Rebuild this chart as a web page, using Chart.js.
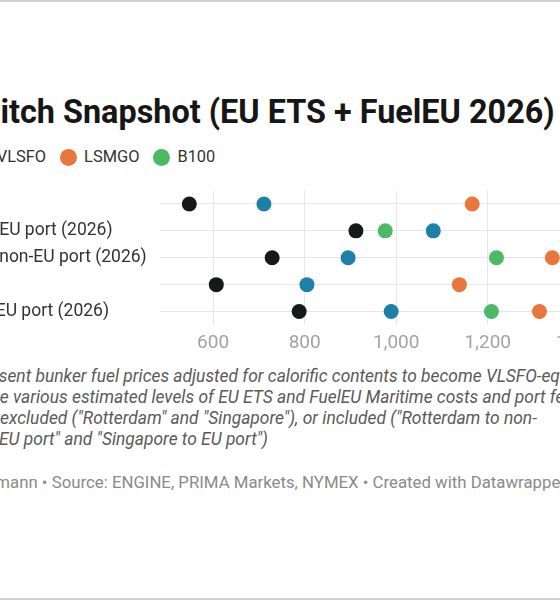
<!DOCTYPE html>
<html>
<head>
    <title>Fuel Switch Snapshot</title>
    <style>
        body {
            margin: 0;
            width: 560px;
            height: 600px;
            overflow: hidden;
            position: relative;
            background: #fff;
            font-family: Roboto, "Noto Sans", sans-serif;
        }
        .rule {
            position: absolute;
            left: 0;
            width: 560px;
            height: 2px;
            background: #cfcfcf;
        }
        .line {
            position: absolute;
            white-space: nowrap;
        }
        .title {
            top: 93px;
            font-size: 32.4px;
            font-weight: bold;
            line-height: 38px;
            color: #161616;
        }
        .legend {
            top: 146px;
            display: flex;
            align-items: center;
            font-size: 16.4px;
            line-height: 22px;
            color: #333;
        }
        .legend .dot {
            display: inline-block;
            width: 17px;
            height: 17px;
            border-radius: 50%;
            margin-right: 7px;
        }
        .legend .item {
            display: flex;
            align-items: center;
            margin-right: 14px;
        }
        .note {
            font-size: 17.4px;
            font-style: italic;
            color: #5a5a5a;
            line-height: 21px;
        }
        .source {
            top: 471px;
            font-size: 16.8px;
            color: #8a8a8a;
            line-height: 22px;
        }
        #chartBox {
            position: absolute;
            left: -107px;
            top: 180px;
            width: 847px;
            height: 180px;
        }
    </style>
    <script src="https://cdn.jsdelivr.net/npm/chart.js"></script>
</head>
<body>
    <div class="rule" style="top:0"></div>
    <div class="rule" style="top:598px"></div>

    <div class="line title" data-x="0"><span class="pre">Fuel Sw</span>itch Snapshot (EU ETS + FuelEU 2026)</div>

    <div class="line legend" id="legend"></div>

    <div class="line note" style="top:366px" data-x="-1"><span class="pre">Note: Figures repre</span>sent bunker fuel prices adjusted for calorific contents to become VLSFO-equivalent, and</div>
    <div class="line note" style="top:387px" data-x="0"><span class="pre">th</span>e various estimated levels of EU ETS and FuelEU Maritime costs and port fees are either</div>
    <div class="line note" style="top:408px" data-x="0"><span class="pre"></span>excluded ("Rotterdam" and "Singapore"), or included ("Rotterdam to non-</div>
    <div class="line note" style="top:429px" data-x="-1"><span class="pre"></span>EU port" and "Singapore to EU port")</div>

    <div class="line source" data-x="-5"><span class="pre">Chart: Leh</span>mann • Source: ENGINE, PRIMA Markets, NYMEX • Created with Datawrapper</div>

    <div id="chartBox"><canvas id="chart"></canvas></div>

    <script>
        // Rows and fuel prices (USD/t, VLSFO-equivalent)
        const categories = [
            'Rotterdam',
            'Rotterdam to EU port (2026)',
            'Rotterdam to non-EU port (2026)',
            'Singapore',
            'Singapore to EU port (2026)'
        ];
        const seriesNames = ['HSFO', 'VLSFO', 'LSMGO', 'B100'];
        const hsfo = [548, 912, 729, 607, 788];
        const vlsfo = [711, 1081, 895, 805, 989];
        const lsmgo = [1166, 1516, 1341, 1138, 1313];
        const b100 = [1462, 976, 1219, 1451, 1208];
        const xTicks = [600, 800, 1000, 1200, 1400, 1600];

        const colors = ['#17181c', '#1d80a6', '#e9773c', '#4cb967'];
        const seriesData = [hsfo, vlsfo, lsmgo, b100];

        // Legend
        const legend = document.getElementById('legend');
        seriesNames.forEach((name, i) => {
            const item = document.createElement('span');
            item.className = 'item';
            item.innerHTML = `<span class="dot" style="background:${colors[i]}"></span><span class="lbl">${name}</span>`;
            legend.appendChild(item);
        });
        // the reference is cropped: VLSFO label starts just off the left edge
        const vLabel = legend.querySelectorAll('.lbl')[1];
        legend.style.left = (-3 - vLabel.offsetLeft) + 'px';

        // shift cropped text lines so the visible part lines up
        document.querySelectorAll('.line[data-x]').forEach(el => {
            const pre = el.querySelector('.pre');
            el.style.left = (parseFloat(el.dataset.x) - pre.offsetWidth) + 'px';
        });

        new Chart(document.getElementById('chart'), {
            type: 'line',
            data: {
                labels: categories,
                datasets: seriesNames.map((name, i) => ({
                    label: name,
                    data: seriesData[i],
                    showLine: false,
                    clip: false,
                    backgroundColor: colors[i],
                    borderColor: colors[i],
                    pointRadius: 7.5,
                    pointHoverRadius: 7.5,
                    pointBorderWidth: 0
                }))
            },
            options: {
                indexAxis: 'y',
                responsive: true,
                maintainAspectRatio: false,
                animation: false,
                layout: { autoPadding: false, padding: { top: 5, left: 0, right: 0, bottom: 0 } },
                plugins: {
                    legend: { display: false },
                    tooltip: { enabled: false }
                },
                scales: {
                    x: {
                        type: 'linear',
                        min: 484,
                        max: 1751,
                        afterBuildTicks: scale => {
                            scale.ticks = xTicks.map(v => ({ value: v }));
                        },
                        afterFit: scale => { scale.height = 35; },
                        grid: { color: '#e6e6e6', lineWidth: 1, drawTicks: false },
                        border: { display: false },
                        ticks: {
                            padding: 7,
                            color: '#a3a3a3',
                            font: { family: 'Roboto', size: 19 }
                        }
                    },
                    y: {
                        type: 'category',
                        offset: true,
                        afterFit: scale => { scale.width = 267; },
                        grid: { color: '#e6e6e6', lineWidth: 1, offset: false, drawTicks: false },
                        border: { display: false },
                        ticks: {
                            crossAlign: 'far',
                            padding: 0,
                            color: '#333',
                            font: { family: 'Roboto', size: 17.5 }
                        }
                    }
                }
            }
        });
    </script>
</body>
</html>
